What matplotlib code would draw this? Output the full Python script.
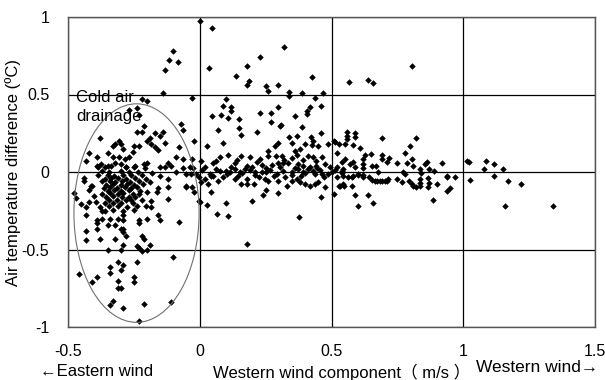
import matplotlib
matplotlib.use("Agg")
import matplotlib.pyplot as plt
from matplotlib.patches import Ellipse

plt.rcParams['font.family'] = ['Liberation Sans', 'Noto Sans CJK JP', 'DejaVu Sans']

# (western wind component m/s, air temperature difference degC)
# lower part of the cold air drainage cluster
drainage_low = [
    (-0.43, -0.28), (-0.39, -0.31), (-0.39, -0.33), (-0.37, -0.30), (-0.34, -0.30),
    (-0.31, -0.30), (-0.29, -0.28), (-0.29, -0.31), (-0.23, -0.31), (-0.23, -0.33),
    (-0.20, -0.30), (-0.16, -0.28), (-0.15, -0.31), (-0.08, -0.32), (-0.35, -0.34),
    (-0.32, -0.34), (-0.30, -0.37), (-0.29, -0.37), (-0.29, -0.39), (-0.43, -0.38),
    (-0.39, -0.37), (-0.43, -0.44), (-0.38, -0.43), (-0.32, -0.43), (-0.28, -0.41),
    (-0.22, -0.41), (-0.21, -0.43), (-0.29, -0.47), (-0.19, -0.47), (-0.35, -0.50),
    (-0.30, -0.50), (-0.24, -0.48), (-0.23, -0.49), (-0.22, -0.51), (-0.20, -0.50),
    (-0.10, -0.55), (-0.31, -0.58), (-0.29, -0.60), (-0.24, -0.58), (-0.34, -0.61),
    (-0.34, -0.65), (-0.30, -0.63), (-0.46, -0.66), (-0.39, -0.68), (-0.41, -0.71),
    (-0.31, -0.70), (-0.25, -0.68), (-0.25, -0.71), (-0.31, -0.75), (-0.30, -0.75),
    (-0.33, -0.83), (-0.34, -0.86), (-0.29, -0.88), (-0.21, -0.85), (-0.11, -0.84),
    (-0.23, -0.96),
]

# upper part of the drainage cluster and points above it
drainage_high = [
    (-0.22, 0.47), (-0.20, 0.46), (-0.03, 0.48), (-0.27, 0.40), (-0.24, 0.41),
    (-0.23, 0.37), (-0.21, 0.30), (-0.07, 0.31), (-0.065, 0.27), (-0.24, 0.26),
    (-0.22, 0.26), (-0.38, 0.22), (-0.17, 0.25), (-0.15, 0.23), (-0.14, 0.255),
    (-0.19, 0.22), (-0.20, 0.20), (-0.305, 0.20), (-0.32, 0.18), (-0.30, 0.18),
    (-0.33, 0.17), (-0.25, 0.17), (-0.23, 0.17), (-0.185, 0.18), (-0.17, 0.16),
    (-0.13, 0.19), (-0.08, 0.16), (-0.02, 0.20), (-0.29, 0.15), (-0.255, 0.13),
    (-0.16, 0.14), (-0.42, 0.12), (-0.39, 0.10), (-0.35, 0.12), (-0.33, 0.10),
    (-0.305, 0.095), (-0.285, 0.085), (-0.27, 0.095), (-0.21, 0.05), (-0.20, 0.06),
    (-0.43, 0.07), (-0.39, 0.04), (-0.375, 0.05), (-0.35, 0.04), (-0.32, 0.06),
    (-0.30, 0.05), (-0.28, 0.035), (-0.25, 0.03), (-0.12, 0.056), (-0.09, 0.095),
    (-0.065, 0.084), (-0.03, 0.084), (0.0, 0.975), (-0.10, 0.78), (-0.115, 0.725),
    (-0.083, 0.71), (-0.13, 0.66), (-0.14, 0.51),
]

# dense core of the drainage cluster
drainage_core = [
    (-0.388, 0.035), (-0.361, 0.03), (-0.338, 0.038), (-0.281, 0.032), (-0.247, 0.036),
    (-0.209, 0.028), (-0.152, 0.034), (-0.133, 0.03), (-0.110, 0.036), (-0.065, 0.028),
    (-0.038, 0.033), (-0.027, 0.025),
    (-0.476, -0.137), (-0.47, -0.17), (-0.413, -0.088), (-0.451, -0.206), (-0.432, -0.228),
    (-0.394, -0.196), (-0.38, -0.227), (-0.36, -0.249), (-0.441, -0.056), (-0.41, -0.088),
    (-0.122, -0.045), (-0.122, -0.099), (-0.052, -0.099), (-0.03, -0.099), (-0.20, -0.131),
    (-0.162, -0.131), (-0.122, -0.174), (-0.185, -0.189), (-0.204, -0.217), (-0.185, -0.224),
    (-0.014, -0.013), (-0.002, -0.035), (-0.052, -0.013), (-0.033, -0.013), (-0.022, -0.131),
    (-0.002, -0.19), (-0.051, -0.088),
    (-0.37, 0.004), (-0.345, -0.003), (-0.30, 0.006), (-0.27, -0.002), (-0.235, 0.003),
    (-0.18, -0.004), (-0.09, 0.002),
    (-0.385, -0.021), (-0.35, -0.018), (-0.325, -0.024), (-0.29, -0.017), (-0.26, -0.022),
    (-0.22, -0.019), (-0.15, -0.023),
    (-0.36, -0.043), (-0.335, -0.038), (-0.31, -0.041), (-0.28, -0.044), (-0.245, -0.037),
    (-0.205, -0.042), (-0.44, -0.04),
    (-0.37, -0.061), (-0.34, -0.057), (-0.32, -0.063), (-0.295, -0.058), (-0.265, -0.062),
    (-0.23, -0.059), (-0.19, -0.064),
    (-0.355, -0.081), (-0.33, -0.078), (-0.30, -0.083), (-0.275, -0.079), (-0.25, -0.082),
    (-0.215, -0.077),
    (-0.365, -0.101), (-0.34, -0.097), (-0.315, -0.103), (-0.285, -0.099), (-0.26, -0.102),
    (-0.24, -0.098), (-0.16, -0.104),
    (-0.35, -0.121), (-0.325, -0.118), (-0.30, -0.123), (-0.27, -0.119), (-0.225, -0.122),
    (-0.42, -0.117),
    (-0.37, -0.141), (-0.34, -0.138), (-0.31, -0.143), (-0.29, -0.137), (-0.255, -0.142),
    (-0.23, -0.139),
    (-0.355, -0.161), (-0.33, -0.158), (-0.295, -0.163), (-0.27, -0.159), (-0.245, -0.162),
    (-0.40, -0.157),
    (-0.345, -0.181), (-0.315, -0.178), (-0.28, -0.183), (-0.26, -0.179), (-0.22, -0.182),
    (-0.36, -0.201), (-0.33, -0.198), (-0.30, -0.203), (-0.255, -0.199), (-0.42, -0.196),
    (-0.345, -0.221), (-0.31, -0.218), (-0.275, -0.223), (-0.24, -0.219),
    (-0.37, -0.251), (-0.33, -0.247), (-0.29, -0.252), (-0.25, -0.248),
]

# scattered warm points with western wind
west_high = [
    (0.047, 0.93), (0.037, 0.672), (0.319, 0.804), (0.228, 0.74), (0.179, 0.682),
    (0.139, 0.621), (0.188, 0.589), (0.179, 0.561), (0.25, 0.553), (0.26, 0.523),
    (0.298, 0.561), (0.427, 0.611), (0.338, 0.514), (0.338, 0.488), (0.389, 0.51),
    (0.469, 0.51), (0.437, 0.475), (0.459, 0.428), (0.418, 0.417), (0.406, 0.396),
    (0.406, 0.374), (0.099, 0.471), (0.089, 0.428), (0.118, 0.417), (0.118, 0.396),
    (0.048, 0.359), (0.08, 0.37), (0.109, 0.348), (0.148, 0.342), (0.228, 0.379),
    (0.269, 0.379), (0.298, 0.421), (0.361, 0.359), (0.269, 0.32), (0.308, 0.303),
    (0.304, 0.295), (0.148, 0.284), (0.158, 0.239), (0.068, 0.271), (0.219, 0.26),
    (0.389, 0.292), (0.089, 0.187), (0.028, 0.17), (0.34, 0.224), (0.37, 0.234),
    (0.421, 0.228), (0.459, 0.25), (0.431, 0.202), (0.298, 0.185), (0.285, 0.17),
    (0.349, 0.187), (0.399, 0.181), (0.427, 0.174), (0.488, 0.181), (0.45, 0.166),
    (0.568, 0.583), (0.638, 0.594), (0.659, 0.574), (0.807, 0.682), (0.56, 0.26),
    (0.56, 0.234), (0.56, 0.213), (0.589, 0.252), (0.589, 0.224), (0.51, 0.202),
    (0.53, 0.181), (0.551, 0.181), (0.58, 0.174), (0.608, 0.153), (0.691, 0.219),
    (0.821, 0.219), (0.798, 0.17), (0.513, 0.196),
]

# band around zero difference with western wind
west_band = [
    (0.26, 0.137), (0.361, 0.137), (0.38, 0.148), (0.108, 0.11), (0.158, 0.105),
    (0.19, 0.095), (0.076, 0.095), (0.063, 0.073), (0.26, 0.105), (0.289, 0.105),
    (0.311, 0.105), (0.412, 0.105), (0.431, 0.095), (0.463, 0.095), (0.475, 0.052),
    (0.133, 0.058), (0.178, 0.041), (0.216, 0.063), (0.235, 0.045), (0.273, 0.045),
    (0.298, 0.058), (0.317, 0.058), (0.336, 0.058), (0.374, 0.052), (0.393, 0.041),
    (0.418, 0.03), (0.44, 0.041), (0.006, 0.073), (0.101, 0.008), (0.114, 0.0),
    (0.044, -0.024), (0.152, 0.0), (0.209, -0.002), (0.253, 0.0), (0.349, 0.002),
    (0.393, 0.0), (0.437, -0.013), (0.463, -0.013), (0.501, -0.002), (0.539, 0.008),
    (0.32, 0.08), (0.35, 0.09), (0.39, 0.075), (0.44, 0.07), (0.37, 0.11),
    (0.23, 0.085), (0.14, 0.08), (0.05, 0.055),
    (0.019, -0.045), (0.032, -0.077), (0.051, -0.024), (0.07, -0.056), (0.041, -0.127),
    (0.006, -0.066), (0.133, -0.045), (0.158, -0.077), (0.178, -0.077), (0.206, -0.077),
    (0.178, -0.045), (0.247, -0.045), (0.26, -0.056), (0.25, -0.114), (0.241, -0.148),
    (0.298, -0.056), (0.298, -0.137), (0.33, -0.088), (0.349, -0.056), (0.368, -0.045),
    (0.38, -0.066), (0.399, -0.077), (0.418, -0.088), (0.437, -0.077), (0.45, -0.066),
    (0.475, -0.099), (0.46, -0.163), (0.51, -0.142), (0.529, -0.088), (0.545, -0.077),
    (0.0, -0.191), (0.028, -0.211), (0.099, -0.202), (0.199, -0.189), (0.067, -0.271),
    (0.108, -0.284), (0.378, -0.288), (0.179, -0.462),
    (0.008, 0.012), (0.038, -0.01), (0.076, 0.005), (0.103, -0.015), (0.133, 0.018),
    (0.16, -0.005), (0.19, 0.01), (0.209, -0.02), (0.236, 0.0), (0.266, 0.015),
    (0.293, -0.012), (0.316, 0.008), (0.35, -0.018), (0.373, 0.02), (0.399, -0.008),
    (0.43, 0.004), (0.456, 0.016), (0.487, -0.01), (0.513, 0.01), (0.54, -0.004),
    (0.02, 0.03), (0.06, 0.02), (0.09, -0.03), (0.12, 0.03), (0.145, -0.025),
    (0.17, 0.02), (0.2, 0.03), (0.225, -0.03), (0.25, 0.025), (0.28, -0.025),
    (0.305, 0.03), (0.325, -0.03), (0.36, 0.025), (0.385, -0.028), (0.41, 0.02),
    (0.445, 0.025), (0.47, -0.03), (0.495, 0.035), (0.52, -0.03),
]

# stronger western wind
west_strong = [
    (0.52, 0.123), (0.551, 0.084), (0.539, 0.063), (0.583, 0.063), (0.57, 0.052),
    (0.627, 0.11), (0.649, 0.116), (0.621, 0.084), (0.619, 0.052), (0.691, 0.11),
    (0.691, 0.084), (0.718, 0.088), (0.712, 0.063), (0.748, 0.058), (0.779, 0.121),
    (0.805, 0.084), (0.786, 0.056), (0.811, 0.041), (0.862, 0.066), (0.853, 0.052),
    (0.919, 0.056), (0.653, 0.041), (0.669, 0.041), (0.52, 0.03), (0.543, 0.019),
    (0.589, 0.03), (0.621, 0.025), (0.678, 0.0), (0.771, 0.002), (0.779, -0.013),
    (0.837, 0.019), (0.871, 0.019), (0.89, 0.008), (0.84, -0.005), (0.545, -0.024),
    (0.577, -0.034), (0.60, -0.02), (0.621, -0.034), (0.672, -0.056), (0.691, -0.056),
    (0.71, -0.056), (0.653, -0.05), (0.748, -0.045), (0.767, -0.066), (0.795, -0.056),
    (0.805, -0.077), (0.834, -0.045), (0.837, -0.071), (0.868, -0.041), (0.871, -0.071),
    (0.9, -0.077), (0.94, -0.034), (0.97, -0.034), (0.948, -0.105), (0.532, -0.088),
    (0.549, -0.088), (0.577, -0.088), (1.014, 0.073), (1.02, 0.063), (1.087, 0.069),
    (1.118, 0.052), (1.077, 0.019), (1.149, 0.019), (1.027, -0.052), (1.118, -0.028),
    (1.169, -0.06), (1.219, -0.077), (1.157, -0.221), (1.341, -0.221), (0.589, -0.148),
    (0.638, -0.148), (0.60, -0.221), (0.657, -0.2), (0.887, -0.179), (0.938, -0.121),
    (0.938, -0.028), (0.868, -0.099), (0.809, -0.092), (0.821, -0.099), (0.665, -0.056),
    (0.684, -0.06), (0.703, -0.056), (0.716, -0.045), (0.837, -0.088),
    (0.564, -0.034), (0.583, -0.024), (0.602, -0.013), (0.621, -0.019), (0.644, -0.034),
]

x_ticks = [-0.5, 0, 0.5, 1, 1.5]
x_ticklabels = ['-0.5', '0', '0.5', '1', '1.5']
y_ticks = [-1, -0.5, 0, 0.5, 1]
y_ticklabels = ['-1', '-0.5', '0', '0.5', '1']

fig = plt.figure(figsize=(6.05, 3.8), dpi=100)
ax = fig.add_axes([68 / 605, 1 - 327 / 380, 527 / 605, 310 / 380])

for group in [drainage_low, drainage_high, drainage_core, west_high, west_band, west_strong]:
    xs = [p[0] for p in group]
    ys = [p[1] for p in group]
    ax.scatter(xs, ys, marker='D', s=11, color='black', linewidths=0, zorder=3)

# cold air drainage outline
ax.add_patch(Ellipse((-0.24, -0.265), 0.475, 1.41, fill=False,
                     edgecolor='#707070', linewidth=0.8, zorder=4))
ax.text(-0.47, 0.417, 'Cold air\ndrainage', fontsize=12, linespacing=1.35,
        va='center', ha='left', zorder=5)

ax.set_xlim(-0.5, 1.5)
ax.set_ylim(-1, 1)
ax.set_xticks(x_ticks)
ax.set_xticklabels(x_ticklabels)
ax.set_yticks(y_ticks)
ax.set_yticklabels(y_ticklabels)
ax.tick_params(axis='both', length=0, labelsize=11.5)
ax.tick_params(axis='x', pad=12.5)
ax.tick_params(axis='y', pad=13.5)
ax.grid(True, color='black', linewidth=0.9)
ax.set_axisbelow(True)
for s in ax.spines.values():
    s.set_color('#555555')
    s.set_linewidth(1)

ax.set_ylabel('Air temperature difference (ºC)', fontsize=12)
ax.yaxis.set_label_coords(-0.09, 0.5)

fig.text(40 / 605, 1 - 371 / 380, '←Eastern wind', fontsize=12, va='center', ha='left')
fig.text(342 / 605, 1 - 372 / 380, 'Western wind component（ m/s ）', fontsize=12,
         va='center', ha='center')
fig.text(476 / 605, 1 - 368 / 380, 'Western wind→', fontsize=12.5, va='center', ha='left')

fig.savefig('out.png', dpi=100)
